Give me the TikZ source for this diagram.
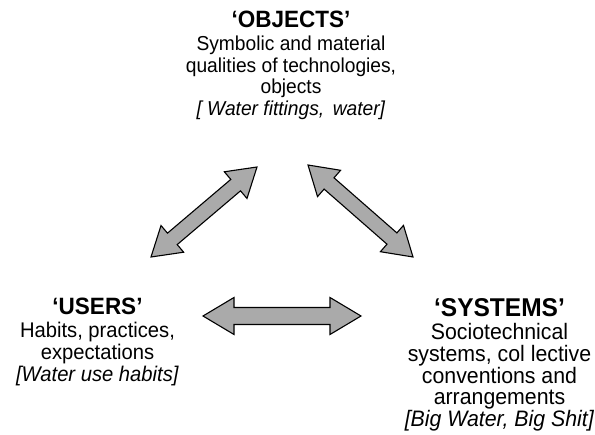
\documentclass[tikz,border=0pt]{standalone}
\usepackage{fontspec}
\setmainfont{Liberation Sans}
\usetikzlibrary{calc}
\definecolor{arrowgray}{HTML}{AAAAAA}
\tikzset{
  arrowshape/.style={draw=black, fill=arrowgray, line width=1.1pt, line join=miter},
  blocktext/.style={align=center, inner sep=0pt, anchor=north, transform shape},
  stretched/.style={yscale=1.05},
}
% double arrow between two named coordinates: #1,#2 ends; #3 head length; #4 head half width; #5 shaft half width
\newcommand\dblarr[5]{%
  \draw[arrowshape] (#1)
    -- ($(#1)!#3!(#2)!#4!90:(#2)$)
    -- ($(#1)!#3!(#2)!#5!90:(#2)$)
    -- ($(#2)!#3!(#1)!#5!-90:(#1)$)
    -- ($(#2)!#3!(#1)!#4!-90:(#1)$)
    -- (#2)
    -- ($(#2)!#3!(#1)!#4!90:(#1)$)
    -- ($(#2)!#3!(#1)!#5!90:(#1)$)
    -- ($(#1)!#3!(#2)!#5!-90:(#2)$)
    -- ($(#1)!#3!(#2)!#4!-90:(#2)$)
    -- cycle;}
\newcommand\ttl[2]{{\fontsize{#1}{#1}\selectfont\bfseries #2}}
\begin{document}
\begin{tikzpicture}[x=1pt,y=-1pt]
\useasboundingbox (0,0) rectangle (595,435);
\begin{scope}[shift={(291,11)}, stretched]
\node[blocktext, font=\fontsize{19.2}{20.7}\selectfont] (objects) at (0,0)
  {\ttl{22.5}{‘OBJECTS’}\\[1pt] Symbolic and material\\ qualities of technologies,\\ objects\\ \textit{[ Water fittings,\, water]}};
\end{scope}
\begin{scope}[shift={(97.5,298)}, stretched]
\node[blocktext, font=\fontsize{20.2}{21}\selectfont] (users) at (0,0)
  {\ttl{22.5}{‘USERS’}\\[1pt] Habits, practices,\\ expectations\\ \textit{[Water use habits]}};
\end{scope}
\begin{scope}[shift={(499.5,298)}, stretched]
\node[blocktext, font=\fontsize{21.3}{20.6}\selectfont] (systems) at (0,0)
  {\ttl{24.5}{‘SYSTEMS’}\\[2pt] Sociotechnical\\ systems, col lective\\ conventions and\\ arrangements\\ \textit{[Big Water, Big Shit]}};
\end{scope}
% arrow end points
\coordinate (uo1) at (151,257);
\coordinate (uo2) at (257,167);
\coordinate (os1) at (308,165);
\coordinate (os2) at (413,257);
\coordinate (us1) at (203,316);
\coordinate (us2) at (361,316);
\dblarr{uo1}{uo2}{28pt}{17.5pt}{7.5pt}
\dblarr{os1}{os2}{28pt}{17.5pt}{7.5pt}
\dblarr{us1}{us2}{31pt}{18.5pt}{8.5pt}
\end{tikzpicture}
\end{document}
